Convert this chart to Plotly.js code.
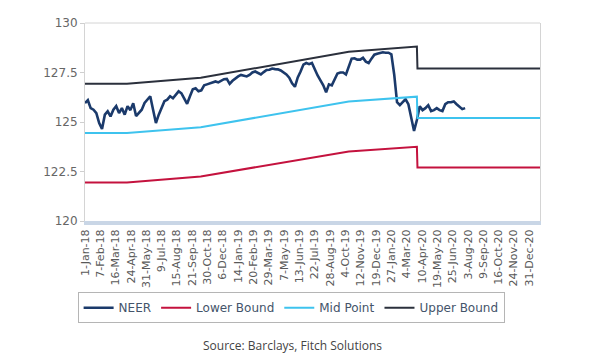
<!DOCTYPE html>
<html>
<head>
<meta charset="utf-8">
<script src="https://cdn.plot.ly/plotly-3.0.1.min.js"></script>
<style>html,body{margin:0;padding:0;background:#fff;}#chart{width:600px;height:360px;}</style>
</head>
<body>
<div id="chart"></div>
<script>
// NEER, weekly readings (Mondays) starting 1-Jan-2018
const neerStart = '2018-01-01';
const neerValues = [
125.96,126.10,125.70,125.62,125.45,124.95,124.65,125.37,125.54,125.28,
125.62,125.80,125.45,125.70,125.37,125.80,125.60,125.95,125.30,125.45,
125.62,125.96,126.13,126.30,125.62,124.95,125.37,125.70,126.05,126.13,
126.30,126.20,126.38,126.55,126.45,126.20,125.92,126.30,126.65,126.70,
126.55,126.60,126.85,126.90,126.96,127.03,127.05,127.00,127.08,127.16,
127.18,126.93,127.08,127.21,127.30,127.38,127.34,127.30,127.38,127.50,
127.55,127.47,127.40,127.52,127.63,127.64,127.70,127.67,127.66,127.60,
127.50,127.40,127.24,126.95,126.78,127.25,127.55,127.90,127.98,127.92,
127.98,127.65,127.35,127.10,126.85,126.50,126.90,126.85,127.13,127.45,
127.50,127.50,127.40,127.80,128.20,128.22,128.15,128.15,128.24,128.05,
127.98,128.20,128.40,128.45,128.50,128.52,128.50,128.50,128.42,127.40,
126.00,125.85,126.00,126.15,125.90,125.20,124.55,125.10,125.80,125.60,
125.70,125.85,125.55,125.60,125.70,125.60,125.55,125.90,126.00,126.00,
126.04,125.90,125.75,125.65,125.70
];

// Policy band vertices
const bandDates = ['2018-01-01','2018-04-13','2018-10-12','2019-10-14','2020-03-30','2020-03-31','2021-01-27'];
const lowerBound = [121.95,121.95,122.25,123.51,123.75,122.70,122.70];
const midPoint   = [124.44,124.44,124.74,126.03,126.28,125.20,125.20];
const upperBound = [126.93,126.93,127.23,128.55,128.81,127.70,127.70];

// Axis ticks
const xTickDates = ['2018-01-01','2018-02-07','2018-03-16','2018-04-24','2018-05-31','2018-07-09','2018-08-15','2018-09-21','2018-10-30','2018-12-06',
'2019-01-14','2019-02-20','2019-03-29','2019-05-07','2019-06-13','2019-07-22','2019-08-28','2019-10-04','2019-11-12','2019-12-19',
'2020-01-27','2020-03-04','2020-04-10','2020-05-19','2020-06-25','2020-08-03','2020-09-09','2020-10-16','2020-11-24','2020-12-31'];
const xTickLabels = ['1-Jan-18','7-Feb-18','16-Mar-18','24-Apr-18','31-May-18','9-Jul-18','15-Aug-18','21-Sep-18','30-Oct-18','6-Dec-18',
'14-Jan-19','20-Feb-19','29-Mar-19','7-May-19','13-Jun-19','22-Jul-19','28-Aug-19','4-Oct-19','12-Nov-19','19-Dec-19',
'27-Jan-20','4-Mar-20','10-Apr-20','19-May-20','25-Jun-20','3-Aug-20','9-Sep-20','16-Oct-20','24-Nov-20','31-Dec-20'];
const yTickVals = [120,122.5,125,127.5,130];
const yTickLabels = ['120','122.5','125','127.5','130'];

// weekly calendar for NEER readings
function weeklyDates(start, n){
  const out=[]; const d0=new Date(start+'T00:00:00Z');
  for(let i=0;i<n;i++){ const d=new Date(d0.getTime()+i*7*86400000); out.push(d.toISOString().slice(0,10)); }
  return out;
}
const neerDates = weeklyDates(neerStart, neerValues.length);

const traces = [
  {x:neerDates, y:neerValues, name:'NEER', type:'scatter', mode:'lines', line:{color:'#1b3a6b', width:2.6}},
  {x:bandDates, y:lowerBound, name:'Lower Bound', type:'scatter', mode:'lines', line:{color:'#c4123e', width:2}},
  {x:bandDates, y:midPoint, name:'Mid Point', type:'scatter', mode:'lines', line:{color:'#3ec3ee', width:2}},
  {x:bandDates, y:upperBound, name:'Upper Bound', type:'scatter', mode:'lines', line:{color:'#2b303c', width:2}}
];

const layout = {
  width:600, height:360,
  margin:{l:85, r:60, t:23, b:139},
  paper_bgcolor:'#fff', plot_bgcolor:'#fff',
  font:{family:'DejaVu Sans, sans-serif', color:'#666', size:11},
  showlegend:true,
  legend:{orientation:'h', x:0.453, xanchor:'center', y:-0.36, yanchor:'top',
          font:{family:'DejaVu Sans, sans-serif', size:12, color:'#44546a'},
          bordercolor:'#b5b5b5', borderwidth:1, itemwidth:30, tracegroupgap:0},
  xaxis:{type:'date', range:['2018-01-01','2021-01-27'],
         rangebreaks:[{bounds:['sat','mon']}],
         tickmode:'array', tickvals:xTickDates, ticktext:xTickLabels, tickangle:-90,
         tickfont:{family:'DejaVu Sans, sans-serif', size:11, color:'#595959'},
         showgrid:false, zeroline:false, ticks:'', showline:true, linecolor:'#c9d6e6', linewidth:4},
  yaxis:{range:[120,130], tickmode:'array', tickvals:yTickVals, ticktext:yTickLabels,
         tickfont:{family:'DejaVu Sans, sans-serif', size:12, color:'#666'},
         showgrid:false, zeroline:false, ticks:'outside', ticklen:4, tickcolor:'#cfcfcf',
         showline:true, mirror:true, linecolor:'#d4d4d4', linewidth:1},
  shapes:[{type:'line', xref:'paper', yref:'paper', x0:0, x1:1, y0:1, y1:1, line:{color:'#d4d4d4', width:1}}],
  annotations:[{text:'Source: Barclays, Fitch Solutions', xref:'paper', yref:'paper', x:0.457, y:-0.63,
                xanchor:'center', yanchor:'middle', showarrow:false,
                font:{family:'Open Sans, sans-serif', size:12, color:'#444'}}]
};

Plotly.newPlot('chart', traces, layout, {displayModeBar:false, staticPlot:true});
</script>
</body>
</html>
